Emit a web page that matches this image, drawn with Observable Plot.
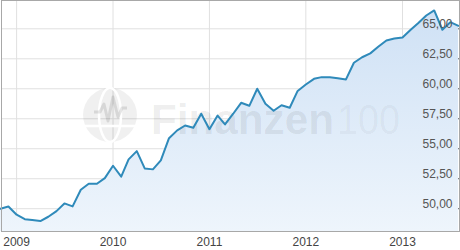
<!DOCTYPE html>
<html>
<head>
<meta charset="utf-8">
<script src="https://cdn.jsdelivr.net/npm/d3@7"></script>
<script src="https://cdn.jsdelivr.net/npm/@observablehq/plot@0.6"></script>
<style>
  html, body { margin: 0; padding: 0; background: #fff; }
  #chart svg { display: block; font-family: "Liberation Sans", Arial, sans-serif; }
</style>
</head>
<body>
<div id="chart"></div>
<script>
// Monthly closing values, Nov 2008 – Aug 2013
const startMonth = "2008-11-01";
const values = [
  50.00, 50.19,
  49.50, 49.13, 49.05, 48.97, 49.33, 49.80, 50.44, 50.19, 51.58, 52.08, 52.08, 52.55,
  53.58, 52.67, 54.11, 54.80, 53.36, 53.28, 54.03, 55.88, 56.53, 56.94, 56.75, 57.92,
  56.63, 57.77, 57.03, 57.92, 58.83, 58.58, 60.00, 58.75, 58.17, 58.63, 58.42, 59.82,
  60.36, 60.83, 60.97, 60.97, 60.88, 60.78, 62.17, 62.63, 62.95, 63.50, 64.03, 64.19,
  64.28, 64.92, 65.47, 66.11, 66.53, 64.92, 65.55, 65.25
];
const yearTicks = ["2009", "2010", "2011", "2012", "2013"];
const yTicks = [50, 52.5, 55, 57.5, 60, 62.5, 65];
const yDomain = [48.1, 67.36];

const start = new Date(startMonth + "T00:00:00Z");
const dates = values.map((_, i) => d3.utcMonth.offset(start, i));
const data = values.map((v, i) => ({date: dates[i], value: v}));
const xTickDates = yearTicks.map(y => new Date(y + "-01-01T00:00:00Z"));
const fmtY = d => d.toFixed(2).replace(".", ",");

const plot = Plot.plot({
  width: 460,
  height: 250,
  marginLeft: 1,
  marginRight: 1,
  marginTop: 0,
  marginBottom: 19,
  insetLeft: -1,
  insetRight: 1,
  x: {type: "utc", domain: [dates[0], dates[dates.length - 1]], label: null},
  y: {domain: yDomain, label: null},
  style: {fontFamily: "Liberation Sans, Arial, sans-serif", fontSize: "12px", background: "#fff"},
  marks: [
    Plot.gridY(yTicks, {stroke: "#e0e0e0", strokeOpacity: 1}),
    Plot.gridX(xTickDates, {stroke: "#e0e0e0", strokeOpacity: 1}),
    Plot.areaY(data, {x: "date", y1: yDomain[0], y2: "value", fill: "url(#areaGrad)", curve: "linear"}),
    Plot.lineY(data, {x: "date", y: "value", stroke: "#2f8aba", strokeWidth: 2, curve: "linear"}),
    Plot.axisY(yTicks, {anchor: "right", label: null, tickSize: 0, tickPadding: 0, textAnchor: "end", dx: -7, dy: -5,
      tickFormat: fmtY, fill: "#555", fontSize: 12}),
    Plot.axisY(yTicks, {anchor: "right", label: null, tickSize: -2, tickFormat: () => "", stroke: "#666"}),
    Plot.axisX(xTickDates, {anchor: "bottom", label: null, tickSize: 0, tickPadding: 5.5, tickFormat: d3.utcFormat("%Y"),
      fill: "#444", fontSize: 12}),
    Plot.frame({stroke: "#a8a8a8", strokeWidth: 1})
  ]
});

const svg = d3.select(plot);
const defs = svg.insert("defs", ":first-child");
const grad = defs.append("linearGradient").attr("id", "areaGrad")
  .attr("x1", 0).attr("y1", 0).attr("x2", 0).attr("y2", 1);
grad.append("stop").attr("offset", "0%").attr("stop-color", "#cfe1f5");
grad.append("stop").attr("offset", "100%").attr("stop-color", "#eef5fc");

// Watermark (decoration, not data)
const wm = svg.insert("g", "[aria-label=line]").attr("aria-label", "watermark")
  .attr("text-anchor", "start");
wm.append("circle").attr("cx", 110).attr("cy", 115).attr("r", 27).attr("fill", "#000").attr("fill-opacity", 0.06);
const gl = wm.append("g").attr("stroke", "#fff").attr("fill", "none").attr("stroke-width", 2.5);
gl.append("ellipse").attr("cx", 110).attr("cy", 115).attr("rx", 11).attr("ry", 27);
gl.append("line").attr("x1", 83).attr("x2", 137).attr("y1", 126).attr("y2", 126);
wm.append("path").attr("d", "M94,112 L100,112 L104,104 L108,121 L113,97 L118,117 L122,108 L127,108")
  .attr("fill", "none").attr("stroke", "#000").attr("stroke-opacity", 0.1).attr("stroke-width", 3)
  .attr("stroke-linejoin", "round");
wm.append("text").attr("x", 151).attr("y", 134).attr("text-anchor", "start")
  .attr("font-family", "Liberation Sans, Arial, sans-serif").attr("font-weight", "bold")
  .attr("font-size", 43).attr("fill", "#000").attr("fill-opacity", 0.075)
  .attr("textLength", 183).attr("lengthAdjust", "spacingAndGlyphs").text("Finanzen");
wm.append("text").attr("x", 337).attr("y", 134).attr("text-anchor", "start")
  .attr("font-family", "Liberation Sans, Arial, sans-serif").attr("font-weight", "normal")
  .attr("font-size", 43).attr("fill", "#000").attr("fill-opacity", 0.05)
  .attr("textLength", 63).attr("lengthAdjust", "spacingAndGlyphs").text("100");

document.getElementById("chart").appendChild(plot);
</script>
</body>
</html>
